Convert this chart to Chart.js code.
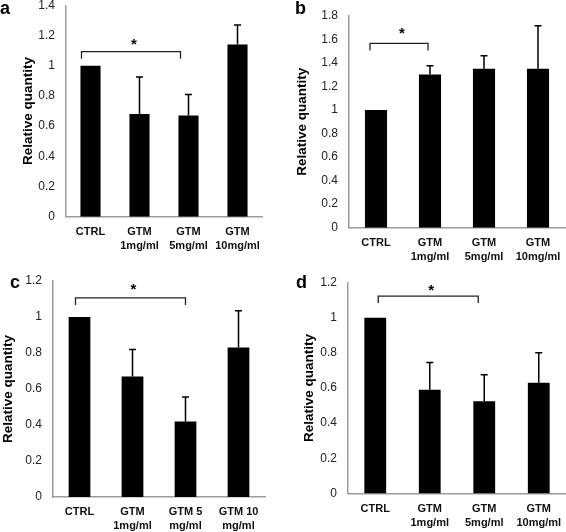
<!DOCTYPE html>
<html>
<head>
<meta charset="utf-8">
<script src="https://cdn.jsdelivr.net/npm/chart.js@4.4.0/dist/chart.umd.min.js"></script>
<style>
  body { margin: 0; background: #fff; }
  #wrap { position: relative; width: 566px; height: 532px; overflow: hidden; }
  #wrap canvas { position: absolute; }
</style>
</head>
<body>
<div id="wrap">
  <canvas id="panelA" width="283" height="266" style="left:0;top:0"></canvas>
  <canvas id="panelB" width="283" height="266" style="left:283px;top:0"></canvas>
  <canvas id="panelC" width="283" height="266" style="left:0;top:266px"></canvas>
  <canvas id="panelD" width="283" height="266" style="left:283px;top:266px"></canvas>
</div>
<script>
// categories
const labelsABD = [["CTRL"], ["GTM", "1mg/ml"], ["GTM", "5mg/ml"], ["GTM", "10mg/ml"]];
const labelsC = [["CTRL"], ["GTM", "1mg/ml"], ["GTM 5", "mg/ml"], ["GTM 10", "mg/ml"]];

// mean relative quantity and upper error (SD) per panel
const valuesA = [1.0, 0.68, 0.67, 1.14];
const errorsA = [0, 0.245, 0.14, 0.13];
const valuesB = [1.0, 1.30, 1.35, 1.35];
const errorsB = [0, 0.075, 0.11, 0.365];
const valuesC = [1.0, 0.67, 0.42, 0.83];
const errorsC = [0, 0.15, 0.135, 0.205];
const valuesD = [1.0, 0.59, 0.525, 0.63];
const errorsD = [0, 0.155, 0.15, 0.17];

// y axis maxima (ticks every 0.2)
const yMaxA = 1.4, yMaxB = 1.8, yMaxC = 1.2, yMaxD = 1.2;
const tickStep = 0.2;

// significance brackets: [from bar, to bar, level]
const bracketA = [0, 2, 1.093];
const bracketB = [0, 1, 1.565];
const bracketC = [0, 2, 1.106];
const bracketD = [0, 2, 1.123];

const FONT = "'Liberation Sans', Arial, Helvetica, sans-serif";

const panels = [
  { id: "panelA", letter: "a", letterX: 0, letterY: 14, labels: labelsABD, values: valuesA, errors: errorsA, yMax: yMaxA,
    bracket: bracketA, dx: [-9, -8], starGap: 11, area: { left: 66, right: 262, top: 5.3, bottom: 216.7 }, titlePad: 20, barPct: 0.41 },
  { id: "panelB", letter: "b", letterX: 12, letterY: 13.5, labels: labelsABD, values: valuesB, errors: errorsB, yMax: yMaxB,
    bracket: bracketB, dx: [-6, -2], starGap: 14, area: { left: 66, right: 282, top: 15.7, bottom: 227.7 }, titlePad: 11, barPct: 0.41 },
  { id: "panelC", letter: "c", letterX: 10, letterY: 21.5, labels: labelsC, values: valuesC, errors: errorsC, yMax: yMaxC,
    bracket: bracketC, dx: [-4, 0], starGap: 12, area: { left: 53, right: 265, top: 15, bottom: 231 }, titlePad: 0, barPct: 0.41 },
  { id: "panelD", letter: "d", letterX: 13, letterY: 22, labels: labelsABD, values: valuesD, errors: errorsD, yMax: yMaxD,
    bracket: bracketD, dx: [3, -6], starGap: 10, area: { left: 65, right: 283, top: 16.5, bottom: 227.5 }, titlePad: 18, barPct: 0.40 }
];

// error bars, bracket with asterisk, and panel letter
const annotations = {
  id: "annotations",
  afterDatasetsDraw(chart, args, opts) {
    const ctx = chart.ctx;
    const y = chart.scales.y;
    const bars = chart.getDatasetMeta(0).data;
    ctx.save();
    ctx.strokeStyle = "#000";
    ctx.lineWidth = 1.5;
    opts.errors.forEach((e, i) => {
      if (!e) return;
      const x = bars[i].x;
      const top = y.getPixelForValue(opts.values[i] + e);
      ctx.beginPath();
      ctx.moveTo(x, bars[i].y);
      ctx.lineTo(x, top);
      ctx.moveTo(x - 3.5, top);
      ctx.lineTo(x + 3.5, top);
      ctx.stroke();
    });

    const [from, to, level] = opts.bracket;
    const x1 = bars[from].x + opts.dx[0];
    const x2 = bars[to].x + opts.dx[1];
    const by = y.getPixelForValue(level);
    ctx.strokeStyle = "#222";
    ctx.lineWidth = 1.3;
    ctx.beginPath();
    ctx.moveTo(x1, by + 7);
    ctx.lineTo(x1, by);
    ctx.lineTo(x2, by);
    ctx.lineTo(x2, by + 7);
    ctx.stroke();

    ctx.fillStyle = "#000";
    ctx.font = "bold 15px " + FONT;
    ctx.textAlign = "center";
    ctx.textBaseline = "alphabetic";
    ctx.fillText("*", (x1 + x2) / 2 + 3, by - opts.starGap + 8.5);
    ctx.restore();
  },
  afterDraw(chart, args, opts) {
    const ctx = chart.ctx;
    ctx.save();
    ctx.fillStyle = "#000";
    ctx.font = "bold 18px " + FONT;
    ctx.textAlign = "left";
    ctx.textBaseline = "alphabetic";
    ctx.fillText(opts.letter, opts.letterX, opts.letterY);
    ctx.restore();
  }
};

panels.forEach((p) => {
  const canvas = document.getElementById(p.id);
  const W = canvas.width, H = canvas.height;
  new Chart(canvas.getContext("2d"), {
    type: "bar",
    data: {
      labels: p.labels,
      datasets: [{
        data: p.values,
        backgroundColor: "#000",
        borderWidth: 0,
        barPercentage: p.barPct,
        categoryPercentage: 1
      }]
    },
    options: {
      responsive: false,
      animation: false,
      devicePixelRatio: 1,
      layout: { padding: { left: 0, top: p.area.top, right: W - p.area.right, bottom: 0 } },
      plugins: {
        legend: { display: false },
        tooltip: { enabled: false },
        annotations: {
          values: p.values, errors: p.errors, bracket: p.bracket, dx: p.dx, starGap: p.starGap,
          letter: p.letter, letterX: p.letterX, letterY: p.letterY
        }
      },
      scales: {
        x: {
          grid: { display: false, drawTicks: false },
          border: { display: true, color: "#9c9c9c", width: 1.5 },
          ticks: {
            color: "#111", padding: 8, maxRotation: 0, autoSkip: false,
            font: { family: FONT, size: 11, weight: "bold", lineHeight: 1.3 }
          },
          afterFit(s) { s.height = H - p.area.bottom; s.paddingLeft = 0; s.paddingRight = 0; }
        },
        y: {
          min: 0,
          max: p.yMax,
          grid: { display: false, drawTicks: false },
          border: { display: true, color: "#9c9c9c", width: 1.5 },
          ticks: {
            stepSize: tickStep, color: "#222", padding: 11,
            font: { family: FONT, size: 12 },
            callback: (v) => String(Number(v.toFixed(1)))
          },
          title: {
            display: true, text: "Relative quantity", color: "#000",
            font: { family: FONT, size: 13.5, weight: "bold" },
            padding: { top: p.titlePad, bottom: 0 }
          },
          afterFit(s) { s.width = p.area.left; s.paddingTop = 0; s.paddingBottom = 0; }
        }
      }
    },
    plugins: [annotations]
  });
});
</script>
</body>
</html>
